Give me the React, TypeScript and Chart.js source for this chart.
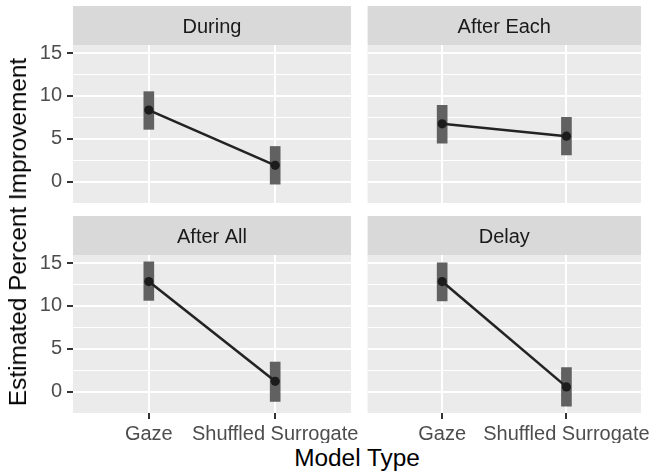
import React, { useEffect, useRef } from 'react';
import { Chart, registerables } from 'chart.js';

Chart.register(...registerables);

// ---- data ----
const categories = ['Gaze', 'Shuffled Surrogate'];
const facetTitles = ['During', 'After Each', 'After All', 'Delay'];

const estDuring = [8.35, 1.9];
const lowDuring = [6.1, -0.3];
const highDuring = [10.5, 4.1];

const estAfterEach = [6.75, 5.3];
const lowAfterEach = [4.5, 3.1];
const highAfterEach = [8.9, 7.5];

const estAfterAll = [12.85, 1.2];
const lowAfterAll = [10.65, -1.15];
const highAfterAll = [15.15, 3.45];

const estDelay = [12.85, 0.55];
const lowDelay = [10.6, -1.7];
const highDelay = [15.05, 2.8];

const yMajorTicks = [0, 5, 10, 15];
const yMinorTicks = [2.5, 7.5, 12.5];

const FONT = "'Liberation Sans', Arial, Helvetica, sans-serif";
const SMALL = 20;

const panelBg = {
  id: 'panelBg',
  beforeDraw(chart: any) {
    const { ctx, chartArea: a } = chart;
    ctx.save();
    ctx.fillStyle = '#d9d9d9';
    ctx.fillRect(a.left, 0, a.right - a.left, a.top);
    ctx.fillStyle = '#ebebeb';
    ctx.fillRect(a.left, a.top, a.right - a.left, a.bottom - a.top);
    ctx.restore();
  },
};

type PanelProps = {
  title: string;
  est: number[];
  low: number[];
  high: number[];
  showY: boolean;
  showX: boolean;
  left: number;
  top: number;
  width: number;
  height: number;
};

function Panel({ title, est, low, high, showY, showX, left, top, width, height }: PanelProps) {
  const ref = useRef<HTMLCanvasElement | null>(null);
  useEffect(() => {
    if (!ref.current) return;
    const allY = [...yMajorTicks, ...yMinorTicks].sort((a, b) => a - b);
    const isMajor = (v: number) => yMajorTicks.includes(v);
    const chart = new Chart(ref.current, {
      type: 'line',
      data: {
        datasets: [
          {
            type: 'line',
            data: categories.map((_, i) => ({ x: i + 1, y: est[i] })),
            borderColor: '#232323',
            backgroundColor: '#1c1c1c',
            borderWidth: 2.6,
            pointRadius: 4.6,
            pointBorderWidth: 0,
            pointBackgroundColor: '#1c1c1c',
            order: 0,
          } as any,
          {
            type: 'bar',
            data: categories.map((_, i) => ({ x: i + 1, y: [low[i], high[i]] })),
            backgroundColor: '#616161',
            borderWidth: 0,
            barThickness: 10,
            order: 1,
          } as any,
        ],
      },
      options: {
        animation: false,
        responsive: false,
        maintainAspectRatio: false,
        events: [],
        layout: { padding: { left: 0, right: 9, top: 0, bottom: 0 } },
        plugins: {
          legend: { display: false },
          tooltip: { enabled: false },
          title: {
            display: true,
            text: title,
            fullSize: false,
            color: '#1a1a1a',
            font: { family: FONT, size: SMALL, weight: 'normal' },
            padding: { top: 9, bottom: 6 },
          },
        },
        scales: {
          x: {
            type: 'linear',
            min: 0.4,
            max: 2.6,
            offset: false,
            afterBuildTicks: (s: any) => {
              s.ticks = categories.map((_, i) => ({ value: i + 1 }));
            },
            afterFit: (s: any) => {
              s.height = showX ? 30 : 12;
              s.paddingLeft = 0;
              s.paddingRight = 0;
            },
            ticks: {
              display: showX,
              autoSkip: false,
              maxRotation: 0,
              padding: 3,
              color: '#4d4d4d',
              font: { family: FONT, size: SMALL },
              callback: (v: any) => categories[Math.round(Number(v)) - 1] ?? '',
            },
            grid: {
              offset: false,
              color: '#ffffff',
              lineWidth: 2,
              drawTicks: showX,
              tickLength: 6,
              tickColor: '#333333',
              tickWidth: 2,
            },
            border: { display: false },
          },
          y: {
            type: 'linear',
            min: -2.5,
            max: 15.95,
            afterBuildTicks: (s: any) => {
              s.ticks = allY.map((v) => ({ value: v }));
            },
            afterFit: (s: any) => {
              s.width = showY ? 73 : 0;
              s.paddingTop = 0;
              s.paddingBottom = 0;
            },
            ticks: {
              display: showY,
              autoSkip: false,
              padding: 5,
              color: '#4d4d4d',
              font: { family: FONT, size: SMALL },
              callback: (v: any) => (isMajor(Number(v)) ? String(v) : ''),
            },
            grid: {
              color: '#ffffff',
              lineWidth: (c: any) => (isMajor(c.tick?.value) ? 2 : 1),
              drawTicks: showY,
              tickLength: 6,
              tickWidth: 2,
              tickColor: (c: any) => (isMajor(c.tick?.value) ? '#333333' : 'rgba(0,0,0,0)'),
            },
            border: { display: false },
          },
        },
      } as any,
      plugins: [panelBg],
    });
    return () => chart.destroy();
  }, []);
  return (
    <canvas
      ref={ref}
      width={width}
      height={height}
      style={{ position: 'absolute', left, top, width, height }}
    />
  );
}

export default function App() {
  return (
    <div
      style={{
        position: 'fixed',
        left: 0,
        top: 0,
        width: 650,
        height: 474,
        background: '#ffffff',
        overflow: 'hidden',
        fontFamily: FONT,
      }}
    >
      <Panel title={facetTitles[0]} est={estDuring} low={lowDuring} high={highDuring}
        showY showX={false} left={0} top={6} width={360} height={209} />
      <Panel title={facetTitles[1]} est={estAfterEach} low={lowAfterEach} high={highAfterEach}
        showY={false} showX={false} left={363} top={6} width={287} height={209} />
      <Panel title={facetTitles[2]} est={estAfterAll} low={lowAfterAll} high={highAfterAll}
        showY showX left={0} top={216} width={360} height={227} />
      <Panel title={facetTitles[3]} est={estDelay} low={lowDelay} high={highDelay}
        showY={false} showX left={363} top={216} width={287} height={227} />
      <div
        style={{
          position: 'absolute',
          left: 73,
          width: 568,
          top: 446,
          textAlign: 'center',
          fontSize: 24.4,
          lineHeight: '24px',
          color: '#000000',
          whiteSpace: 'nowrap',
        }}
      >
        Model Type
      </div>
      <div
        style={{
          position: 'absolute',
          left: 18,
          top: 232,
          transform: 'translate(-50%, -50%) rotate(-90deg)',
          fontSize: 24.4,
          lineHeight: '24px',
          color: '#000000',
          whiteSpace: 'nowrap',
        }}
      >
        Estimated Percent Improvement
      </div>
    </div>
  );
}
